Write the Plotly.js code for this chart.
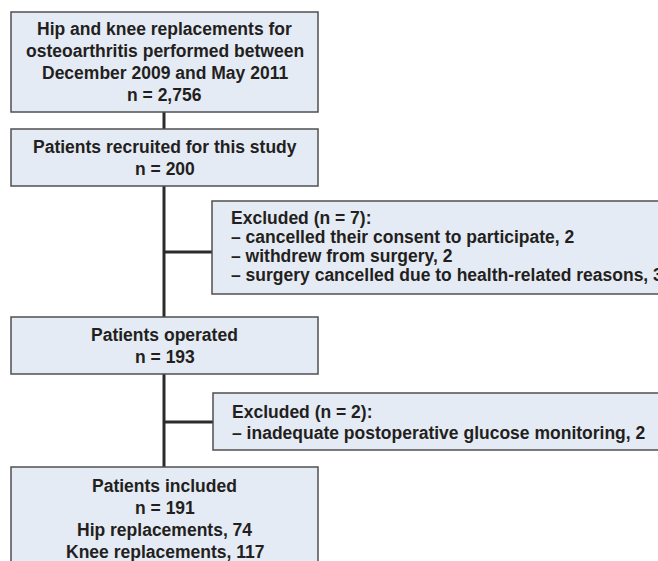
<!DOCTYPE html>
<html>
<head>
<meta charset="utf-8">
<script src="https://cdn.plot.ly/plotly-3.0.1.min.js"></script>
<style>html,body{margin:0;padding:0;background:#fff;}#chart{width:658px;height:561px;}</style>
</head>
<body>
<div id="chart"></div>
<script>
// ---- data ----
const stageTitles = [
  ["Hip and knee replacements for", "osteoarthritis performed between", "December 2009 and May 2011"],
  ["Patients recruited for this study"],
  ["Patients operated"],
  ["Patients included"]
];
const stageCounts = [2756, 200, 193, 191];
const includedLabels = ["Hip replacements", "Knee replacements"];
const includedValues = [74, 117];
const exclusionTotals = [7, 2];
const exclusionReasons = [
  ["cancelled their consent to participate", "withdrew from surgery", "surgery cancelled due to health-related reasons"],
  ["inadequate postoperative glucose monitoring"]
];
const exclusionCounts = [[2, 2, 3], [2]];

// ---- layout (positions in page pixels) ----
const stageBoxes = [[11, 318, 12, 112], [11, 318, 129, 186], [11, 318, 317, 374], [11, 318, 467, 580]];
const stageFirstLine = [29, 147, 335, 486];
const stageSpacing = [22, 22, 22, 22];
const exclBoxes = [[212, 680, 201, 294], [213, 680, 393, 450]];
const exclFirstLine = [218, 412];
const exclSpacing = [19, 21];
const exclConnY = [252, 422];
const spineX = 164;

const fmt = n => n.toLocaleString('en-US');
const FILL = '#e5ebf5', BORDER = '#505050', LINE = '#2b2b2b', TXT = '#231f20';
const FONT = {family: 'Liberation Sans, Arial, sans-serif', size: 17.5, color: TXT, weight: 'bold'};

const shapes = [];
const annotations = [];

for (let i = 0; i < stageBoxes.length - 1; i++) {
  shapes.push({type: 'line', xref: 'x', yref: 'y', x0: spineX, x1: spineX,
    y0: stageBoxes[i][3], y1: stageBoxes[i + 1][2], line: {color: LINE, width: 3}});
}
exclConnY.forEach((y, i) => {
  shapes.push({type: 'line', xref: 'x', yref: 'y', x0: spineX, x1: exclBoxes[i][0],
    y0: y, y1: y, line: {color: LINE, width: 3}});
});
stageBoxes.concat(exclBoxes).forEach(b => {
  shapes.push({type: 'rect', xref: 'x', yref: 'y', x0: b[0], x1: b[1], y0: b[2], y1: b[3],
    fillcolor: FILL, line: {color: BORDER, width: 1.5}, layer: 'above'});
});

stageTitles.forEach((t, i) => {
  const lines = t.concat(['n = ' + fmt(stageCounts[i])]);
  if (i === stageTitles.length - 1) {
    includedLabels.forEach((l, j) => lines.push(l + ', ' + includedValues[j]));
  }
  const b = stageBoxes[i];
  lines.forEach((ln, k) => {
    annotations.push({xref: 'x', yref: 'y', x: (b[0] + b[1]) / 2,
      y: stageFirstLine[i] + k * stageSpacing[i], text: ln,
      showarrow: false, align: 'center', xanchor: 'center', yanchor: 'middle', font: FONT});
  });
});
exclusionReasons.forEach((rs, i) => {
  const lines = ['Excluded (n = ' + exclusionTotals[i] + '):'];
  rs.forEach((r, j) => lines.push('\u2013 ' + r + ', ' + exclusionCounts[i][j]));
  const b = exclBoxes[i];
  lines.forEach((ln, k) => {
    annotations.push({xref: 'x', yref: 'y', x: b[0] + 17,
      y: exclFirstLine[i] + k * exclSpacing[i], text: ln,
      showarrow: false, align: 'left', xanchor: 'left', yanchor: 'middle', font: FONT});
  });
});

const layout = {
  width: 658, height: 561,
  margin: {l: 0, r: 0, t: 0, b: 0},
  paper_bgcolor: '#ffffff', plot_bgcolor: '#ffffff',
  xaxis: {range: [0, 658], visible: false, fixedrange: true},
  yaxis: {range: [561, 0], visible: false, fixedrange: true},
  shapes: shapes, annotations: annotations, showlegend: false
};
Plotly.newPlot('chart', [], layout, {displayModeBar: false, staticPlot: true});
</script>
</body>
</html>
